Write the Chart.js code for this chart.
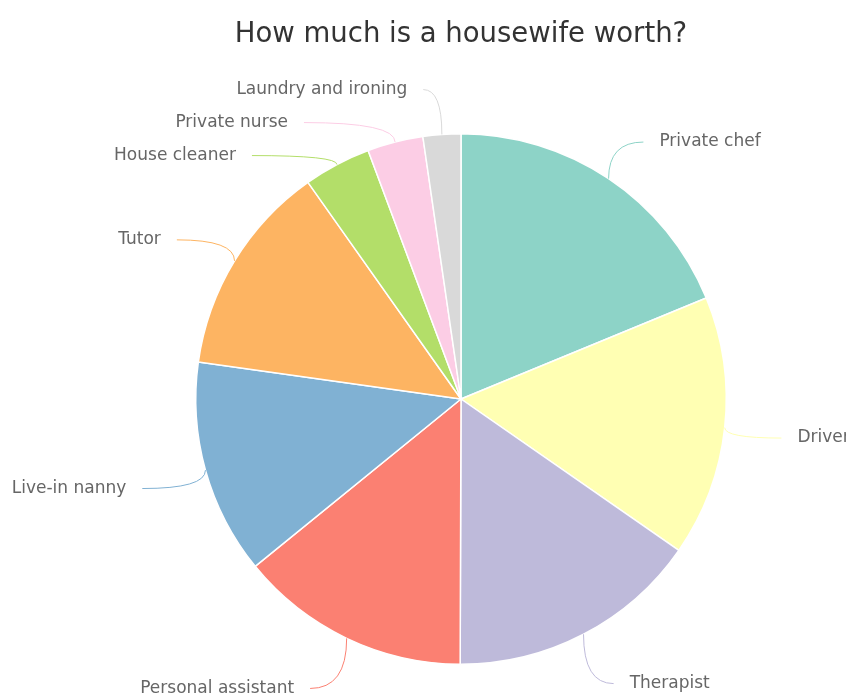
<!DOCTYPE html>
<html>
<head>
<meta charset="utf-8">
<script src="https://cdn.jsdelivr.net/npm/chart.js@4"></script>
<style>
  html, body { margin: 0; padding: 0; background: #fff; }
  #wrap { width: 846px; height: 696px; }
</style>
</head>
<body>
<div id="wrap"><canvas id="pie" width="846" height="696"></canvas></div>
<script>
const jobs = ['Private chef', 'Driver', 'Therapist', 'Personal assistant', 'Live-in nanny',
  'Tutor', 'House cleaner', 'Private nurse', 'Laundry and ironing'];
const shares = [18.8, 15.9, 15.4, 14.1, 13.1, 13.0, 4.1, 3.4, 2.3];
const sliceColors = ['#8dd3c7', '#ffffb3', '#bebada', '#fb8072', '#80b1d3',
  '#fdb462', '#b3de69', '#fccde5', '#d9d9d9'];

// outside labels with soft connectors, placed from the arc elements
const outsideLabels = {
  id: 'outsideLabels',
  afterDraw(chart) {
    const ctx = chart.ctx;
    const arcs = chart.getDatasetMeta(0).data;
    const dist = 50, shiftX = -4, shiftY = 5, gap = 27, spacing = 33;
    const items = arcs.map((arc, i) => {
      const mid = (arc.startAngle + arc.endAngle) / 2;
      return {
        i, arc, mid,
        right: Math.cos(mid) >= 0,
        y: arc.y + shiftY + (arc.outerRadius + dist) * Math.sin(mid)
      };
    });
    [true, false].forEach(side => {
      const list = items.filter(it => it.right === side).sort((a, b) => a.y - b.y);
      for (let k = 1; k < list.length; k++) {
        if (list[k].y < list[k - 1].y + spacing) list[k].y = list[k - 1].y + spacing;
      }
    });
    ctx.save();
    ctx.font = '17px "DejaVu Sans", sans-serif';
    ctx.textBaseline = 'middle';
    items.forEach(it => {
      const { arc, mid } = it;
      const r = arc.outerRadius;
      const R = r + dist;
      const dy = it.y - arc.y - shiftY;
      const dx = Math.sqrt(Math.max(0, R * R - dy * dy));
      const ax = arc.x + shiftX + (it.right ? dx : -dx);
      const tx = it.right ? ax + gap : ax - gap;
      const cx = it.right ? tx - 16 : tx + 16;
      const ex = arc.x + r * Math.cos(mid), ey = arc.y + r * Math.sin(mid);
      ctx.strokeStyle = sliceColors[it.i];
      ctx.lineWidth = 1;
      ctx.beginPath();
      ctx.moveTo(cx, it.y);
      ctx.quadraticCurveTo(ex, it.y, ex, ey);
      ctx.stroke();
      ctx.fillStyle = '#666666';
      ctx.textAlign = it.right ? 'left' : 'right';
      ctx.fillText(jobs[it.i], tx, it.y);
    });
    ctx.restore();
  }
};

new Chart(document.getElementById('pie'), {
  type: 'pie',
  data: {
    labels: jobs,
    datasets: [{
      data: shares,
      backgroundColor: sliceColors,
      borderColor: '#ffffff',
      borderWidth: 1.5
    }]
  },
  options: {
    responsive: false,
    animation: false,
    layout: { padding: { left: 76, right: 0, top: 0, bottom: 31 } },
    plugins: {
      legend: { display: false },
      tooltip: { enabled: false },
      title: {
        display: true,
        text: 'How much is a housewife worth?',
        color: '#333333',
        font: { family: '"DejaVu Sans", sans-serif', size: 27.5, weight: 'normal' },
        padding: { top: 18, bottom: 82 }
      }
    }
  },
  plugins: [outsideLabels]
});
</script>
</body>
</html>
